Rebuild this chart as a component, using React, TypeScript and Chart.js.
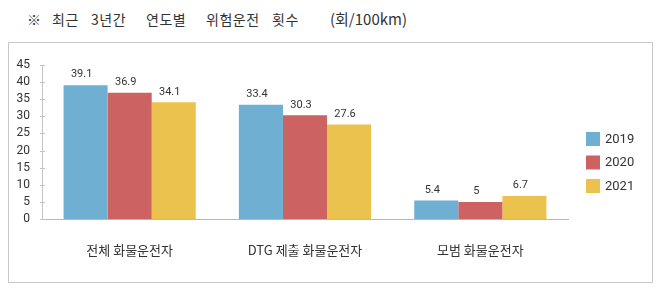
import React, { useEffect, useRef } from "react";
import { Chart, registerables } from "chart.js";

Chart.register(...registerables);

const titleWords = ["※", "최근", "3년간", "연도별", "위험운전", "횟수", "(회/100km)"];
const titleWordX = [27, 52, 91, 146, 206, 272, 330];
const categories = ["전체 화물운전자", "DTG 제출 화물운전자", "모범 화물운전자"];
const seriesNames = ["2019", "2020", "2021"];
const values2019 = [39.1, 33.4, 5.4];
const values2020 = [36.9, 30.3, 5];
const values2021 = [34.1, 27.6, 6.7];
const seriesColors = ["#6fb0d2", "#cd6262", "#ecc24f"];
const yMin = 0;
const yMax = 45;
const yStep = 5;

const KR = '"Noto Sans CJK KR", "Noto Sans", sans-serif';
const NUM = 'Roboto, "Noto Sans", sans-serif';

const extrasPlugin = {
  id: "extras",
  afterDatasetsDraw(chart: any) {
    const ctx = chart.ctx;
    const yScale = chart.scales.y;
    const left = chart.chartArea.left;
    ctx.save();
    // y tick marks crossing the axis line
    ctx.strokeStyle = "#c4c4c4";
    ctx.lineWidth = 1;
    yScale.ticks.forEach((t: any) => {
      const py = Math.round(yScale.getPixelForValue(t.value)) + 0.5;
      ctx.beginPath();
      ctx.moveTo(left - 2, py);
      ctx.lineTo(left + 3, py);
      ctx.stroke();
    });
    // data labels
    ctx.fillStyle = "#333";
    ctx.font = `11px ${NUM}`;
    ctx.textAlign = "center";
    ctx.textBaseline = "bottom";
    chart.data.datasets.forEach((ds: any, di: number) => {
      const meta = chart.getDatasetMeta(di);
      meta.data.forEach((bar: any, i: number) => {
        ctx.fillText(String(ds.data[i]), bar.x - 4, bar.y - 5);
      });
    });
    // legend
    const lx = 586;
    const ly = 132;
    chart.data.datasets.forEach((ds: any, di: number) => {
      const y = ly + di * 23.5;
      ctx.fillStyle = ds.backgroundColor;
      ctx.fillRect(lx, y, 14, 14);
      ctx.fillStyle = "#333";
      ctx.font = `13px ${NUM}`;
      ctx.textAlign = "left";
      ctx.textBaseline = "middle";
      ctx.fillText(ds.label, lx + 19, y + 7.5);
    });
    ctx.restore();
  },
};

export default function App() {
  const ref = useRef<HTMLCanvasElement | null>(null);
  useEffect(() => {
    if (!ref.current) return;
    const data = [values2019, values2020, values2021];
    const chart = new Chart(ref.current, {
      type: "bar",
      data: {
        labels: categories,
        datasets: seriesNames.map((name, i) => ({
          label: name,
          data: data[i],
          backgroundColor: seriesColors[i],
          borderWidth: 0,
          categoryPercentage: 0.754,
          barPercentage: 1,
        })),
      },
      options: {
        responsive: false,
        animation: false,
        layout: { padding: { left: 8, top: 65, right: 92, bottom: 29 } },
        plugins: {
          legend: { display: false },
          tooltip: { enabled: false },
        },
        scales: {
          x: {
            grid: { display: false, drawTicks: false, tickLength: 0 },
            border: { display: true, color: "#b8b8b8", width: 1 },
            ticks: { font: { size: 13, family: KR }, color: "#333", padding: 23, maxRotation: 0 },
            afterFit: (s: any) => {
              s.height = 40;
            },
          },
          y: {
            min: yMin,
            max: yMax,
            grid: { display: false, drawTicks: false, tickLength: 0 },
            border: { display: true, color: "#c4c4c4", width: 1 },
            ticks: { stepSize: yStep, autoSkip: false, font: { size: 12, family: NUM }, color: "#333", padding: 12 },
            afterFit: (s: any) => {
              s.width = 34;
            },
          },
        },
      },
      plugins: [extrasPlugin],
    });
    return () => chart.destroy();
  }, []);

  const last = titleWords.length - 1;
  return (
    <div style={{ position: "absolute", left: 0, top: 0, width: 660, height: 288, background: "#fff", overflow: "hidden" }}>
      {titleWords.map((w, i) => (
        <span
          key={i}
          style={{
            position: "absolute",
            left: titleWordX[i],
            top: 9,
            fontFamily: KR,
            fontSize: i === last ? 15 : 14,
            color: "#333",
            letterSpacing: i === last ? "0px" : "0.5px",
            whiteSpace: "nowrap",
            lineHeight: "20px",
          }}
        >
          {w}
        </span>
      ))}
      <div
        style={{
          position: "absolute",
          left: 8,
          top: 42,
          width: 645,
          height: 241,
          boxSizing: "border-box",
          border: "1px solid #c8c8c8",
        }}
      />
      <canvas ref={ref} width={660} height={288} style={{ position: "absolute", left: 0, top: 0, width: 660, height: 288 }} />
    </div>
  );
}
